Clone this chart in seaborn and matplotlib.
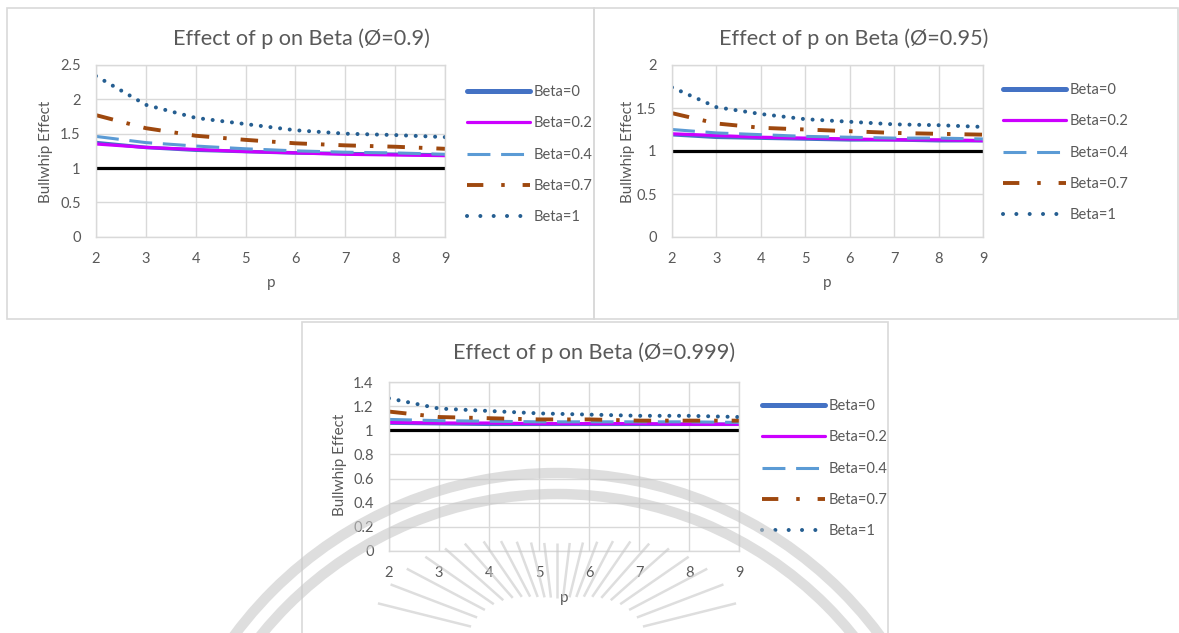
import numpy as np
import pandas as pd
import seaborn as sns
import matplotlib.pyplot as plt
from matplotlib.patches import Rectangle, Arc

# ---- data ----
p_vals = [2, 3, 4, 5, 6, 7, 8, 9]
beta_labels = ["Beta=0", "Beta=0.2", "Beta=0.4", "Beta=0.7", "Beta=1"]
baseline = [1.0] * 8

phi09_b0 = [1.37, 1.30, 1.26, 1.24, 1.22, 1.21, 1.20, 1.19]
phi09_b02 = [1.35, 1.30, 1.27, 1.24, 1.22, 1.20, 1.19, 1.18]
phi09_b04 = [1.46, 1.37, 1.32, 1.28, 1.25, 1.23, 1.22, 1.20]
phi09_b07 = [1.77, 1.58, 1.47, 1.41, 1.36, 1.33, 1.31, 1.28]
phi09_b1 = [2.34, 1.92, 1.73, 1.64, 1.55, 1.50, 1.48, 1.45]

phi095_b0 = [1.19, 1.16, 1.15, 1.14, 1.13, 1.13, 1.12, 1.12]
phi095_b02 = [1.20, 1.18, 1.16, 1.15, 1.14, 1.13, 1.13, 1.12]
phi095_b04 = [1.25, 1.21, 1.19, 1.17, 1.16, 1.15, 1.15, 1.14]
phi095_b07 = [1.44, 1.32, 1.27, 1.25, 1.23, 1.21, 1.20, 1.19]
phi095_b1 = [1.74, 1.51, 1.43, 1.37, 1.34, 1.31, 1.30, 1.28]

phi0999_b0 = [1.06, 1.055, 1.05, 1.05, 1.05, 1.05, 1.05, 1.05]
phi0999_b02 = [1.065, 1.06, 1.06, 1.055, 1.055, 1.055, 1.05, 1.05]
phi0999_b04 = [1.09, 1.08, 1.075, 1.07, 1.07, 1.07, 1.07, 1.065]
phi0999_b07 = [1.155, 1.11, 1.10, 1.09, 1.09, 1.08, 1.08, 1.08]
phi0999_b1 = [1.265, 1.18, 1.16, 1.14, 1.13, 1.12, 1.12, 1.11]

# ---- style ----
sns.set_style("white")
plt.rcParams['font.family'] = ['Lato', 'DejaVu Sans']
TXT = "#595959"
GRID = "#D9D9D9"

# color, linewidth (pt), dash pattern, capstyle
series_style = [
    ("#4472C4", 2.6, None, "round"),
    ("#CC00FF", 2.3, None, "round"),
    ("#5B9BD5", 2.2, (0, (7.5, 3.5)), "butt"),
    ("#9E480E", 2.8, (0, (4.5, 3.6, 0.9, 3.6)), "butt"),
    ("#255E91", 2.9, (0, (0.01, 2.4)), "round"),
]

W, H = 1179, 633
fig = plt.figure(figsize=(W / 100, H / 100), dpi=100)


def fx(x):
    return x / W


def fy(y):
    return 1 - y / H


def draw_chart(box, axpos, series, ymax, ystep, title, title_xy, ylab_xy, xlab_xy, leg_xy):
    # outer chart border
    x0, y0, x1, y1 = box
    fig.add_artist(Rectangle((fx(x0), fy(y1)), fx(x1) - fx(x0), fy(y0) - fy(y1),
                             transform=fig.transFigure, fill=False, ec=GRID, lw=1.2))
    l, r, t, b = axpos
    ax = fig.add_axes([fx(l), fy(b), fx(r) - fx(l), fy(t) - fy(b)])

    df = pd.DataFrame({"p": p_vals, "one": baseline})
    sns.lineplot(data=df, x="p", y="one", ax=ax, color="black", lw=2.3, label="_nolegend_")
    for lab, vals, (col, lw, dash, cap) in zip(beta_labels, series, series_style):
        d = pd.DataFrame({"p": p_vals, "v": vals})
        sns.lineplot(data=d, x="p", y="v", ax=ax, color=col, lw=lw, label=lab)
        ln = ax.lines[-1]
        if dash is not None:
            ln.set_linestyle(dash)
        ln.set_dash_capstyle(cap)
        ln.set_solid_capstyle(cap)

    ax.set_xlim(2, 9)
    ax.set_ylim(0, ymax)
    ax.set_xticks(p_vals)
    ax.set_yticks(np.arange(0, ymax + 1e-9, ystep))
    ax.set_yticklabels([f"{v:g}" for v in np.arange(0, ymax + 1e-9, ystep)])
    ax.grid(True, color=GRID, lw=1.0)
    ax.set_axisbelow(True)
    for s in ax.spines.values():
        s.set_color(GRID)
        s.set_linewidth(1.0)
    ax.tick_params(length=0, labelsize=10.5, colors=TXT)
    ax.tick_params(axis="x", pad=11)
    ax.tick_params(axis="y", pad=11)
    ax.set_xlabel("")
    ax.set_ylabel("")

    fig.text(fx(title_xy[0]), fy(title_xy[1]), title, ha="center", va="center",
             fontsize=15.6, color=TXT)
    fig.text(fx(ylab_xy[0]), fy(ylab_xy[1]), "Bullwhip Effect", ha="center", va="center",
             rotation=90, fontsize=11, color=TXT)
    fig.text(fx(xlab_xy[0]), fy(xlab_xy[1]), "p", ha="center", va="center",
             fontsize=11, color=TXT)

    handles, labels = ax.get_legend_handles_labels()
    leg = ax.legend(handles, labels, loc="upper left",
                    bbox_to_anchor=(fx(leg_xy[0]), fy(leg_xy[1])),
                    bbox_transform=fig.transFigure, frameon=False, borderpad=0,
                    borderaxespad=0, handlelength=4.3, handletextpad=0.3,
                    labelspacing=1.19, fontsize=10.5, labelcolor=TXT)
    leg.legend_handles[0].set_linewidth(3.6)
    # legend samples in Excel use wider spacing than the plotted lines
    leg.legend_handles[3].set_linestyle((0, (4.2, 4.6, 0.9, 4.6)))
    leg.legend_handles[4].set_linestyle((0, (0.01, 3.3)))
    return ax


draw_chart((7, 8, 594, 319), (96, 445, 65, 236.7),
           [phi09_b0, phi09_b02, phi09_b04, phi09_b07, phi09_b1], 2.5, 0.5,
           "Effect of p on Beta (Ø=0.9)", (301, 39), (46, 152), (271, 283), (467, 85))
draw_chart((594, 8, 1178, 319), (672, 983, 65, 237),
           [phi095_b0, phi095_b02, phi095_b04, phi095_b07, phi095_b1], 2.0, 0.5,
           "Effect of p on Beta (Ø=0.95)", (854, 39), (628, 152), (827, 283), (1003, 83))
draw_chart((302, 322, 888, 640), (389, 739, 382, 551),
           [phi0999_b0, phi0999_b02, phi0999_b04, phi0999_b07, phi0999_b1], 1.4, 0.2,
           "Effect of p on Beta (Ø=0.999)", (594, 353), (340, 465), (564, 598), (762, 399))

# ---- faint watermark emblem over the lower chart ----
wm = fig.add_axes([0, 0, 1, 1], zorder=10)
wm.set_xlim(0, W)
wm.set_ylim(H, 0)
wm.axis("off")
wm.patch.set_alpha(0)
wm_col = "#c8c8c8"
for rad in [402, 381]:
    wm.add_patch(Arc((557, 875), 2 * rad, 2 * rad, theta1=0, theta2=360,
                     color=wm_col, lw=7.5, alpha=0.6))
cx, cy = 557, 648
for ang in np.linspace(14, 166, 23):
    a = np.deg2rad(ang)
    r_out = 105 + 85 * abs(np.cos(a)) ** 2.2
    r_in = 0.48 * r_out
    wm.plot([cx + r_in * np.cos(a), cx + r_out * np.cos(a)],
            [cy - r_in * np.sin(a), cy - r_out * np.sin(a)],
            color=wm_col, lw=1.8, alpha=0.6, solid_capstyle="butt")

fig.savefig("out.png", dpi=100)
